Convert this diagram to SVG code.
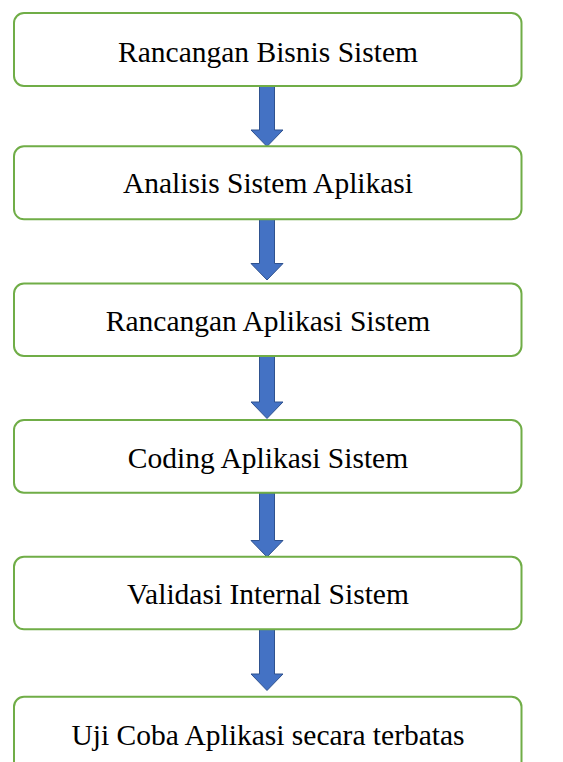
<svg xmlns="http://www.w3.org/2000/svg" width="563" height="762" viewBox="0 0 563 762">
  <style>
    .box { fill: #ffffff; stroke: #70ad47; stroke-width: 2; }
    .label { font-family: "Liberation Serif", "Times New Roman", serif; font-size: 29.5px; fill: #000000; text-anchor: middle; }
    .arrow { fill: #4472c4; stroke: #2f528f; stroke-width: 1; stroke-linejoin: miter; }
  </style>
  <rect width="563" height="762" fill="#ffffff"/>

  <g id="connectors">
    <path class="arrow" d="M259.5,86 H274.5 V130 H283 L267,146.5 L251,130 H259.5 Z"/>
    <path class="arrow" d="M259.5,219.5 H274.5 V263.5 H283 L267,280 L251,263.5 H259.5 Z"/>
    <path class="arrow" d="M259.5,356 H274.5 V402 H283 L267,418.5 L251,402 H259.5 Z"/>
    <path class="arrow" d="M259.5,493 H274.5 V540.5 H283 L267,557 L251,540.5 H259.5 Z"/>
    <path class="arrow" d="M259.5,629.5 H274.5 V674 H283 L267,690.5 L251,674 H259.5 Z"/>
  </g>

  <g id="node-rancangan-bisnis">
    <rect class="box" x="14" y="13" width="507.5" height="73" rx="10"/>
    <text class="label" x="268" y="61.7">Rancangan Bisnis Sistem</text>
  </g>
  <g id="node-analisis">
    <rect class="box" x="14" y="146.3" width="507.5" height="73" rx="10"/>
    <text class="label" x="268" y="193.3">Analisis Sistem Aplikasi</text>
  </g>
  <g id="node-rancangan-aplikasi">
    <rect class="box" x="14" y="283.5" width="507.5" height="72.5" rx="10"/>
    <text class="label" x="268" y="330.7">Rancangan Aplikasi Sistem</text>
  </g>
  <g id="node-coding">
    <rect class="box" x="14" y="420" width="507.5" height="72.7" rx="10"/>
    <text class="label" x="268" y="468.3">Coding Aplikasi Sistem</text>
  </g>
  <g id="node-validasi">
    <rect class="box" x="14" y="556.8" width="507.5" height="72.5" rx="10"/>
    <text class="label" x="268" y="604">Validasi Internal Sistem</text>
  </g>
  <g id="node-uji-coba">
    <rect class="box" x="14" y="696.8" width="507.5" height="80" rx="10"/>
    <text class="label" x="268" y="745">Uji Coba Aplikasi secara terbatas</text>
  </g>
</svg>
